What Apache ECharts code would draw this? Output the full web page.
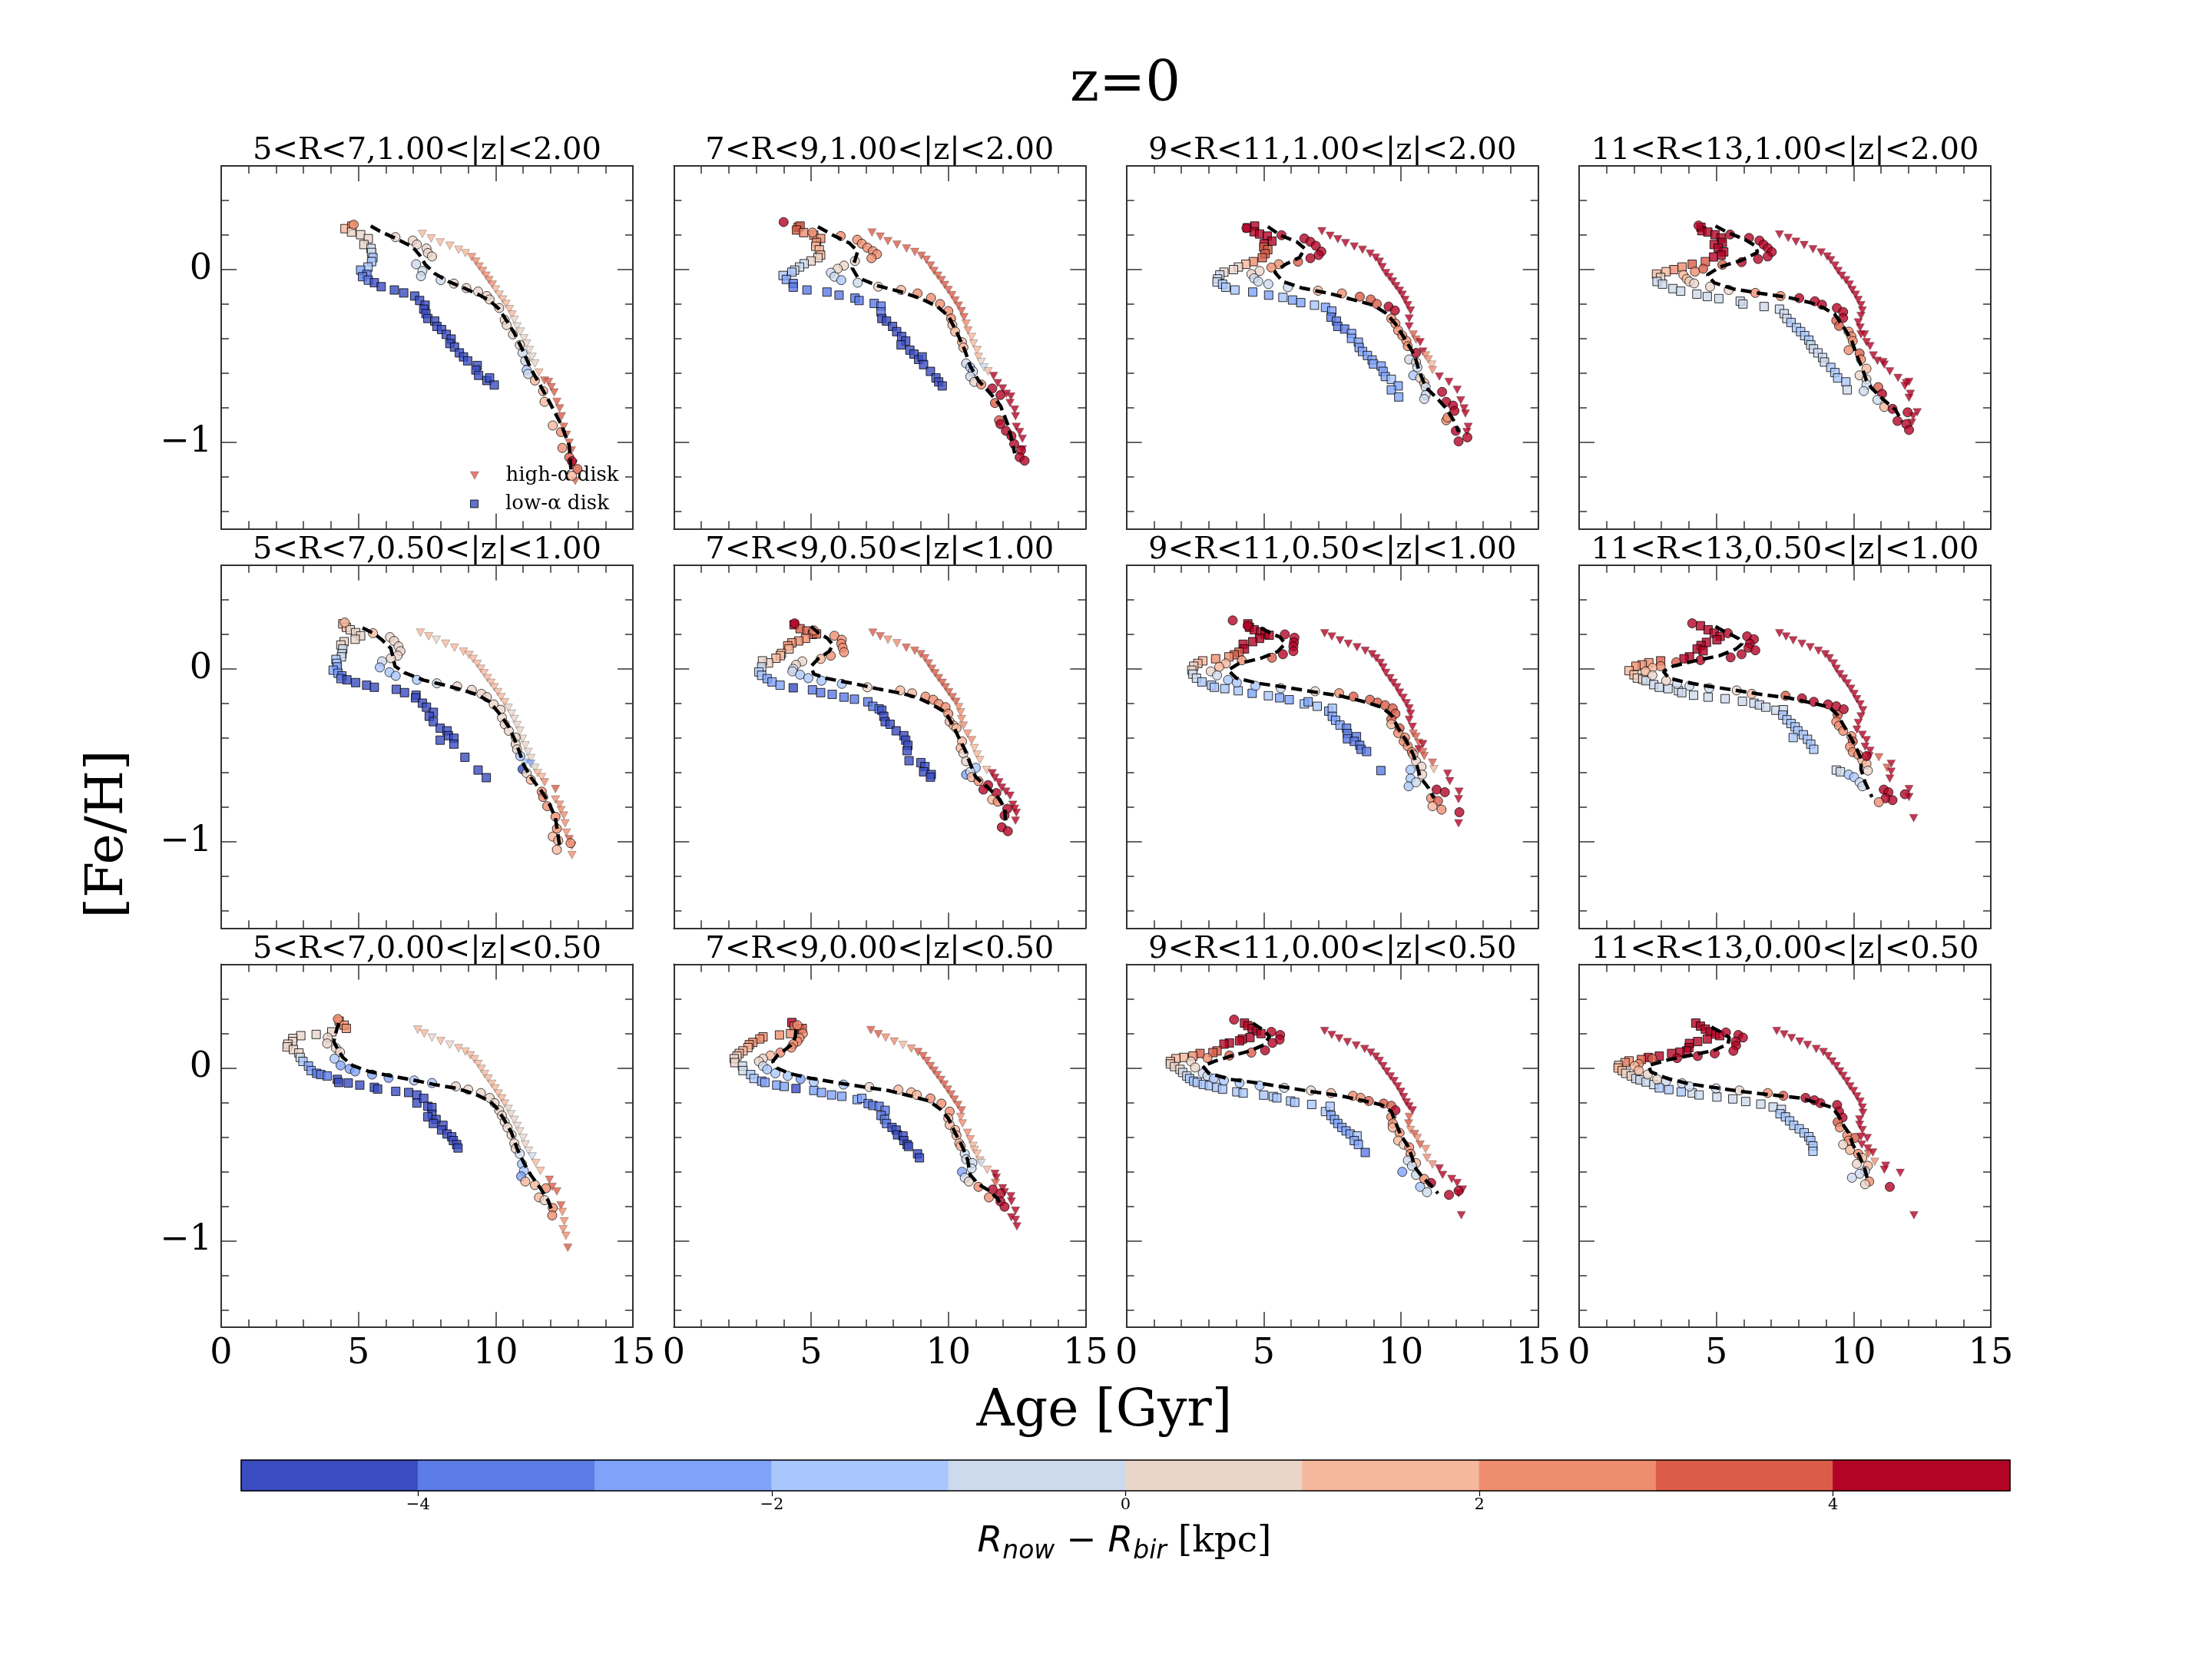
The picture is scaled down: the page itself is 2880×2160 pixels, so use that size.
<!DOCTYPE html>
<html><head><meta charset="utf-8">
<script src="https://cdn.jsdelivr.net/npm/echarts@6/dist/echarts.min.js"></script>
<style>html,body{margin:0;padding:0;background:#fff}#c{width:2880px;height:2160px}</style>
</head><body><div id="c"></div><script>
// colour-bin values of R_now - R_bir (bin centres, kpc)
const B5=-4.5,B4=-3.5,B3=-2.5,B2=-1.5,B1=-0.5,R1=0.5,R2=1.5,R3=2.5,R4=3.5,R5=4.5;

// ---------- row 1 : 1.00<|z|<2.00 ----------
const tri11=[[7.33,0.206,R2],[7.65,0.180,R2],[7.98,0.157,R2],[8.33,0.138,R2],[8.65,0.115,R2],[8.90,0.095,R2],[9.13,0.072,R3],[9.28,0.046,R3],[9.40,0.018,R3],[9.53,-0.008,R3],[9.65,-0.035,R3],[9.76,-0.061,R3],[9.88,-0.087,R3],[10.00,-0.115,R2],[10.13,-0.145,R2],[10.26,-0.173,R2],[10.38,-0.199,R2],[10.50,-0.229,R2],[10.60,-0.260,R2],[10.68,-0.291,R1],[10.78,-0.329,R1],[10.90,-0.359,R1],[11.03,-0.398,R1],[11.13,-0.428,R1],[11.23,-0.466,R1],[11.33,-0.505,R1],[11.43,-0.543,R1],[11.58,-0.596,R2],[11.78,-0.642,R4],[11.93,-0.650,R4],[12.03,-0.680,R4],[12.13,-0.711,R4],[12.23,-0.765,R4],[12.33,-0.803,R4],[12.40,-0.849,R4],[12.48,-0.910,R4],[12.58,-0.956,R4],[12.68,-1.002,R4],[12.76,-1.047,R4],[12.83,-1.124,R4],[12.90,-1.223,R4]];
const sq11=[[4.51,0.237,R2],[4.76,0.252,R3],[4.75,0.217,R1],[5.08,0.202,R1],[5.36,0.179,R1],[5.20,0.145,R1],[5.46,0.122,B1],[5.48,0.099,B1],[5.53,0.069,B2],[5.48,0.046,B2],[5.35,0.015,B2],[5.08,-0.003,B3],[5.31,-0.028,B4],[5.15,-0.041,B4],[5.36,-0.061,B4],[5.58,-0.076,B5],[5.83,-0.099,B5],[6.31,-0.118,B5],[6.65,-0.135,B5],[7.05,-0.153,B5],[7.23,-0.179,B5],[7.43,-0.206,B5],[7.38,-0.229,B5],[7.46,-0.255,B5],[7.53,-0.283,B5],[7.78,-0.298,B5],[7.86,-0.329,B5],[8.03,-0.347,B5],[8.20,-0.375,B5],[8.38,-0.402,B5],[8.33,-0.428,B5],[8.50,-0.448,B5],[8.68,-0.482,B5],[8.83,-0.505,B5],[8.98,-0.528,B5],[9.33,-0.555,B5],[9.28,-0.581,B5],[9.38,-0.612,B5],[9.68,-0.642,B5],[9.78,-0.627,B5],[9.95,-0.668,B5]];
const cir11=[[4.83,0.260,R3],[6.35,0.188,R1],[6.98,0.168,R1],[7.13,0.145,R1],[7.48,0.122,R1],[7.53,0.096,R1],[7.68,0.076,R1],[7.10,0.031,B1],[7.33,-0.008,B1],[7.28,-0.038,B1],[8.00,-0.061,B1],[8.48,-0.081,R1],[8.93,-0.107,R1],[9.36,-0.127,R1],[9.68,-0.153,R1],[9.78,-0.173,R1],[10.13,-0.222,R1],[10.33,-0.291,R1],[10.40,-0.321,R1],[10.63,-0.375,R1],[10.88,-0.436,R1],[10.98,-0.482,B1],[11.08,-0.528,B1],[11.13,-0.581,B2],[11.18,-0.604,B1],[11.43,-0.642,R2],[11.73,-0.703,R2],[11.78,-0.765,R2],[12.08,-0.902,R2],[12.38,-0.940,R3],[12.43,-1.032,R3],[12.68,-1.086,R4],[12.78,-1.109,R5],[12.98,-1.154,R4],[12.78,-1.193,R2]];
const line11=[[5.45,0.252],[5.78,0.222],[6.38,0.179],[6.98,0.130],[7.23,0.084],[7.43,0.031],[7.78,-0.023],[8.28,-0.069],[8.78,-0.102],[9.38,-0.145],[9.78,-0.179],[10.13,-0.229],[10.38,-0.291],[10.68,-0.367],[10.98,-0.466],[11.28,-0.573],[11.58,-0.657],[11.98,-0.772],[12.38,-0.894],[12.68,-1.017],[12.75,-1.170]];

const tri12=[[7.22,0.214,R4],[7.52,0.191,R4],[7.80,0.165,R4],[8.13,0.145,R4],[8.48,0.122,R4],[8.78,0.102,R4],[9.02,0.080,R4],[9.20,0.057,R4],[9.35,0.023,R4],[9.48,-0.008,R4],[9.62,-0.035,R4],[9.75,-0.061,R4],[9.87,-0.089,R4],[10.00,-0.118,R4],[10.13,-0.148,R4],[10.25,-0.179,R4],[10.37,-0.209,R4],[10.48,-0.240,R4],[10.57,-0.275,R4],[10.65,-0.313,R3],[10.72,-0.352,R3],[10.85,-0.390,R2],[10.92,-0.428,R2],[11.05,-0.466,R2],[11.10,-0.505,R2],[11.20,-0.535,R1],[11.30,-0.566,B1],[11.45,-0.589,R2],[11.65,-0.616,R5],[11.80,-0.657,R5],[11.98,-0.688,R5],[12.12,-0.719,R5],[12.28,-0.734,R5],[12.25,-0.772,R5],[12.42,-0.810,R5],[12.45,-0.849,R5],[12.48,-0.910,R5],[12.60,-0.940,R5],[12.70,-0.979,R5],[12.70,-1.040,R5]];
const sq12=[[4.53,0.245,R4],[4.60,0.252,R4],[4.47,0.229,R4],[4.73,0.214,R3],[5.10,0.199,R3],[5.35,0.180,R3],[5.20,0.157,R3],[5.17,0.135,R2],[5.30,0.115,R2],[5.35,0.084,R2],[5.25,0.069,R1],[5.00,0.050,R1],[4.75,0.034,B1],[4.58,0.015,B1],[4.40,-0.003,B1],[4.30,-0.015,B2],[3.98,-0.034,B2],[4.10,-0.057,B3],[4.35,-0.080,B4],[4.35,-0.102,B4],[4.85,-0.118,B4],[5.58,-0.130,B4],[6.02,-0.148,B4],[6.60,-0.165,B4],[6.75,-0.179,B4],[7.30,-0.196,B4],[7.55,-0.211,B4],[7.55,-0.245,B4],[7.58,-0.283,B5],[7.75,-0.298,B5],[7.97,-0.329,B5],[8.12,-0.359,B5],[8.30,-0.387,B5],[8.45,-0.413,B5],[8.28,-0.436,B5],[8.60,-0.466,B5],[8.75,-0.489,B5],[8.92,-0.520,B5],[9.05,-0.505,B5],[9.10,-0.550,B5],[9.35,-0.589,B5],[9.55,-0.627,B5],[9.65,-0.650,B5],[9.78,-0.673,B5]];
const cir12=[[4.00,0.275,R5],[5.05,0.214,R3],[6.08,0.194,R3],[6.68,0.173,R3],[6.85,0.150,R3],[7.05,0.127,R3],[7.25,0.107,R3],[7.40,0.089,R3],[7.20,0.066,R3],[6.60,0.050,R1],[6.20,0.023,R1],[5.97,0.005,R1],[5.72,-0.018,B1],[5.85,-0.041,B1],[6.10,-0.061,B2],[6.70,-0.076,B1],[7.45,-0.099,R1],[8.28,-0.118,R2],[8.88,-0.138,R3],[9.37,-0.164,R3],[9.70,-0.199,R3],[10.00,-0.240,R3],[10.10,-0.283,R3],[10.15,-0.321,R2],[10.25,-0.359,R2],[10.50,-0.420,R2],[10.55,-0.451,R2],[10.65,-0.543,B1],[10.80,-0.566,B2],[10.90,-0.589,B1],[10.80,-0.619,B1],[10.95,-0.650,R1],[11.20,-0.665,R3],[11.60,-0.688,R5],[11.90,-0.726,R5],[11.70,-0.772,R4],[11.85,-0.872,R4],[11.90,-0.894,R5],[12.10,-0.933,R5],[12.30,-0.963,R5],[12.40,-1.009,R5],[12.65,-1.047,R5],[12.60,-1.086,R5],[12.78,-1.106,R5]];
const line12=[[5.25,0.248],[5.80,0.199],[6.40,0.153],[6.70,0.107],[6.60,0.054],[6.50,0.008],[6.70,-0.046],[7.40,-0.092],[8.30,-0.130],[9.00,-0.168],[9.60,-0.214],[10.00,-0.268],[10.30,-0.359],[10.60,-0.466],[10.80,-0.558],[11.10,-0.642],[11.50,-0.711],[11.90,-0.787],[12.20,-0.910],[12.42,-1.063]];

const tri13=[[7.12,0.222,R5],[7.42,0.196,R5],[7.70,0.176,R5],[7.98,0.153,R5],[8.30,0.133,R5],[8.60,0.115,R5],[8.88,0.092,R5],[9.08,0.069,R5],[9.22,0.046,R5],[9.32,0.015,R5],[9.45,-0.020,R5],[9.58,-0.043,R5],[9.70,-0.069,R5],[9.82,-0.095,R5],[9.95,-0.122,R5],[10.05,-0.145,R5],[10.15,-0.176,R5],[10.25,-0.206,R5],[10.35,-0.237,R5],[10.30,-0.283,R5],[10.30,-0.329,R5],[10.45,-0.375,R4],[10.55,-0.405,R4],[10.70,-0.420,R5],[10.80,-0.474,R5],[10.90,-0.497,R3],[11.00,-0.520,R3],[11.13,-0.550,R2],[11.15,-0.581,R3],[11.40,-0.619,R5],[11.75,-0.650,R5],[12.05,-0.696,R5],[12.18,-0.757,R5],[12.30,-0.803,R5],[12.35,-0.833,R5],[12.45,-0.910,R5],[12.40,-0.940,R5]];
const sq13=[[4.40,0.242,R5],[4.67,0.252,R5],[4.65,0.219,R5],[4.85,0.206,R5],[5.13,0.194,R5],[5.30,0.165,R5],[5.02,0.150,R5],[5.00,0.130,R4],[5.15,0.115,R4],[5.05,0.092,R4],[4.95,0.069,R4],[4.62,0.046,R3],[4.35,0.031,R2],[4.08,0.015,R1],[3.90,0.000,R1],[3.55,-0.015,R1],[3.40,-0.031,B1],[3.32,-0.054,B1],[3.30,-0.072,B1],[3.50,-0.084,B2],[3.62,-0.102,B2],[3.95,-0.118,B2],[4.60,-0.130,B3],[5.18,-0.148,B3],[5.70,-0.161,B2],[6.05,-0.176,B3],[6.35,-0.191,B3],[6.85,-0.206,B2],[7.25,-0.219,B3],[7.48,-0.240,B3],[7.45,-0.275,B4],[7.65,-0.298,B4],[7.70,-0.329,B4],[7.95,-0.344,B4],[8.20,-0.370,B3],[8.20,-0.398,B3],[8.45,-0.420,B3],[8.48,-0.451,B3],[8.60,-0.474,B3],[8.78,-0.497,B3],[8.95,-0.523,B3],[9.00,-0.546,B3],[9.28,-0.558,B3],[9.35,-0.589,B3],[9.43,-0.619,B3],[9.65,-0.635,B2],[9.90,-0.673,B3],[9.65,-0.696,B3],[9.92,-0.737,B3]];
const cir13=[[4.37,0.240,R5],[5.65,0.199,R5],[6.48,0.180,R5],[6.70,0.161,R5],[6.90,0.138,R5],[7.10,0.104,R5],[7.00,0.084,R5],[6.70,0.066,R5],[6.25,0.046,R4],[5.55,0.031,R3],[5.28,0.012,R3],[4.85,-0.008,R1],[4.55,-0.026,R1],[4.65,-0.050,B1],[4.80,-0.069,B1],[5.17,-0.084,B1],[5.88,-0.102,B1],[6.98,-0.122,R2],[7.85,-0.138,R3],[8.50,-0.157,R4],[8.90,-0.173,R4],[9.12,-0.199,R4],[9.55,-0.214,R5],[9.78,-0.237,R5],[9.65,-0.283,R3],[9.80,-0.313,R3],[9.90,-0.352,R3],[10.05,-0.382,R3],[10.20,-0.413,R3],[10.25,-0.443,R3],[10.55,-0.482,R5],[10.30,-0.520,B1],[10.55,-0.535,R1],[10.60,-0.566,B1],[10.45,-0.612,B2],[10.70,-0.627,R1],[10.85,-0.657,R2],[10.90,-0.680,B1],[10.90,-0.726,B1],[10.85,-0.749,B1],[11.50,-0.708,R5],[11.65,-0.765,R5],[11.90,-0.787,R5],[11.95,-0.818,R5],[11.65,-0.872,R3],[11.70,-0.856,R3],[12.00,-0.933,R5],[12.10,-0.994,R5],[12.42,-0.971,R5]];
const line13=[[5.15,0.249],[5.60,0.199],[6.20,0.161],[6.50,0.122],[6.30,0.069],[5.80,0.031],[5.40,-0.015],[5.70,-0.069],[6.40,-0.107],[7.40,-0.138],[8.30,-0.176],[9.00,-0.206],[9.45,-0.252],[9.80,-0.313],[10.10,-0.390],[10.30,-0.443],[10.50,-0.497],[10.65,-0.581],[10.90,-0.680],[11.30,-0.742],[11.65,-0.803],[12.00,-0.894],[12.10,-0.940]];

const tri14=[[7.30,0.203,R5],[7.62,0.183,R5],[7.90,0.161,R5],[8.20,0.142,R5],[8.52,0.118,R5],[8.82,0.099,R5],[9.04,0.076,R5],[9.17,0.054,R5],[9.32,0.023,R5],[9.44,-0.008,R5],[9.57,-0.035,R5],[9.72,-0.061,R5],[9.85,-0.087,R5],[9.95,-0.118,R5],[10.07,-0.145,R5],[10.17,-0.176,R5],[10.27,-0.206,R5],[10.32,-0.237,R5],[10.27,-0.268,R5],[10.17,-0.306,R5],[10.24,-0.336,R5],[10.27,-0.375,R5],[10.40,-0.375,R5],[10.47,-0.420,R5],[10.60,-0.443,R5],[10.72,-0.497,R5],[10.87,-0.528,R5],[11.07,-0.535,R5],[11.12,-0.550,R5],[11.32,-0.589,R5],[11.62,-0.627,R5],[11.92,-0.657,R5],[12.02,-0.650,R5],[11.87,-0.673,R5],[12.07,-0.719,R5],[12.02,-0.742,R5],[12.32,-0.826,R5],[12.17,-0.849,R5],[12.12,-0.887,R5]];
const sq14=[[4.44,0.245,R5],[4.47,0.225,R5],[4.69,0.217,R5],[4.95,0.202,R5],[5.17,0.183,R5],[5.22,0.157,R5],[4.92,0.145,R5],[5.07,0.125,R5],[5.27,0.102,R5],[5.17,0.084,R5],[4.90,0.073,R5],[4.60,0.046,R4],[4.12,0.031,R4],[3.75,0.015,R3],[3.45,0.000,R3],[3.17,-0.012,R2],[2.82,-0.026,R2],[2.97,-0.046,R1],[2.84,-0.069,B1],[3.04,-0.084,B1],[3.42,-0.110,B1],[3.70,-0.125,B1],[4.29,-0.142,B1],[4.67,-0.156,B1],[5.09,-0.168,B1],[5.87,-0.183,B1],[5.97,-0.199,B1],[6.74,-0.214,B1],[7.30,-0.229,B1],[7.47,-0.255,B1],[7.57,-0.283,B1],[7.72,-0.306,B2],[7.92,-0.336,B2],[8.07,-0.359,B2],[8.22,-0.382,B2],[8.37,-0.408,B2],[8.44,-0.436,B1],[8.54,-0.459,B1],[8.70,-0.482,B1],[8.87,-0.509,B1],[8.94,-0.535,B1],[9.17,-0.566,B2],[9.32,-0.596,B2],[9.42,-0.627,B2],[9.72,-0.650,B2],[9.77,-0.696,B1]];
const cir14=[[4.35,0.255,R5],[5.50,0.203,R5],[6.19,0.183,R5],[6.57,0.168,R5],[6.72,0.145,R5],[6.87,0.125,R5],[7.02,0.102,R5],[6.87,0.076,R5],[6.52,0.061,R5],[5.92,0.043,R5],[5.22,0.028,R4],[4.52,0.005,R4],[4.22,-0.012,R3],[3.80,-0.031,R2],[3.92,-0.054,R2],[4.02,-0.069,R1],[4.19,-0.080,R1],[4.77,-0.099,R1],[5.45,-0.118,R1],[6.42,-0.135,R3],[7.34,-0.153,R3],[8.02,-0.165,R5],[8.59,-0.183,R5],[8.85,-0.203,R5],[9.39,-0.222,R5],[9.62,-0.245,R5],[9.62,-0.280,R5],[9.37,-0.295,R4],[9.47,-0.326,R4],[9.82,-0.359,R3],[9.92,-0.387,R3],[9.97,-0.413,R3],[9.82,-0.466,R3],[10.22,-0.485,R4],[10.27,-0.520,R3],[10.47,-0.573,R2],[10.22,-0.612,R1],[10.47,-0.635,R1],[10.47,-0.665,B1],[10.37,-0.703,B1],[10.90,-0.680,R4],[11.04,-0.719,R5],[10.87,-0.754,B1],[11.12,-0.795,R2],[11.42,-0.806,R5],[11.60,-0.876,R5],[11.97,-0.826,R5],[11.92,-0.894,R5],[12.02,-0.928,R5]];
const line14=[[4.97,0.252],[5.42,0.214],[6.02,0.176],[6.42,0.138],[6.50,0.099],[5.92,0.054],[5.12,0.015],[4.67,-0.031],[4.92,-0.076],[5.62,-0.112],[6.62,-0.138],[7.62,-0.161],[8.42,-0.191],[8.92,-0.222],[9.32,-0.260],[9.62,-0.329],[9.92,-0.405],[10.12,-0.497],[10.32,-0.573],[10.47,-0.642],[10.67,-0.688],[11.12,-0.757],[11.52,-0.810],[11.77,-0.879]];

// ---------- row 2 : 0.50<|z|<1.00 ----------
const tri21=[[7.26,0.209,R2],[7.56,0.188,R2],[7.84,0.168,R1],[8.18,0.145,R2],[8.50,0.122,R2],[8.83,0.099,R2],[9.03,0.080,R2],[9.18,0.057,R2],[9.33,0.028,R2],[9.46,0.000,R2],[9.58,-0.026,R2],[9.70,-0.054,R2],[9.83,-0.081,R2],[9.95,-0.107,R2],[10.08,-0.135,R2],[10.20,-0.164,R2],[10.33,-0.194,R2],[10.46,-0.226,R1],[10.58,-0.260,R1],[10.68,-0.291,R1],[10.78,-0.326,R1],[10.88,-0.359,R1],[10.98,-0.405,R1],[11.08,-0.443,R1],[11.18,-0.482,R1],[11.28,-0.517,R1],[11.08,-0.543,B2],[11.28,-0.550,B3],[11.43,-0.573,R1],[11.53,-0.604,R2],[11.68,-0.627,R2],[11.78,-0.657,R3],[12.18,-0.696,R4],[12.18,-0.757,R3],[12.33,-0.787,R3],[12.38,-0.818,R3],[12.48,-0.849,R3],[12.53,-0.894,R3],[12.58,-0.948,R3],[12.68,-0.986,R4],[12.78,-1.024,R3],[12.78,-1.078,R3]];
const sq21=[[4.43,0.260,R2],[4.56,0.240,R2],[4.70,0.226,R1],[4.90,0.209,R1],[5.08,0.191,R1],[4.88,0.171,R1],[4.48,0.157,R1],[4.36,0.138,R1],[4.43,0.115,B1],[4.40,0.087,B1],[4.38,0.069,B1],[4.18,0.054,B2],[4.21,0.031,B2],[4.23,0.011,B3],[4.08,-0.008,B3],[4.26,-0.026,B3],[4.40,-0.041,B4],[4.36,-0.057,B4],[4.58,-0.064,B5],[4.90,-0.080,B5],[5.30,-0.095,B5],[5.58,-0.107,B5],[6.38,-0.119,B5],[6.68,-0.138,B5],[7.10,-0.153,B5],[7.08,-0.168,B5],[7.33,-0.199,B5],[7.48,-0.222,B5],[7.73,-0.252,B5],[7.58,-0.275,B5],[7.73,-0.306,B5],[7.98,-0.344,B5],[8.23,-0.359,B5],[8.28,-0.387,B5],[8.48,-0.402,B5],[8.48,-0.436,B5],[7.98,-0.413,B5],[8.88,-0.512,B5],[9.36,-0.586,B5],[9.66,-0.630,B5]];
const cir21=[[4.50,0.268,R2],[5.53,0.206,R2],[6.15,0.183,R1],[6.30,0.161,R1],[6.46,0.130,R1],[6.53,0.102,R1],[6.43,0.076,R1],[6.18,0.061,R1],[5.86,0.043,B1],[5.78,0.008,B2],[6.13,-0.020,B2],[6.36,-0.041,B2],[7.13,-0.064,B2],[7.86,-0.084,B1],[8.60,-0.102,R1],[9.13,-0.122,R1],[9.48,-0.145,R1],[9.68,-0.164,R1],[9.93,-0.206,R1],[10.18,-0.237,R1],[10.23,-0.283,R1],[10.33,-0.321,R1],[10.48,-0.359,R1],[10.73,-0.398,R1],[10.73,-0.436,R1],[10.78,-0.466,R1],[10.90,-0.505,B2],[10.98,-0.581,B5],[11.13,-0.604,R1],[11.28,-0.642,R2],[11.68,-0.711,R3],[11.73,-0.742,R3],[11.88,-0.795,R3],[12.18,-0.856,R3],[12.23,-0.925,R3],[12.08,-0.971,R2],[12.28,-0.994,R2],[12.73,-1.009,R3],[12.23,-1.047,R2]];
const line21=[[5.15,0.237],[5.58,0.203],[5.88,0.164],[6.18,0.118],[6.28,0.054],[6.33,0.015],[6.68,-0.023],[7.38,-0.066],[8.08,-0.092],[8.78,-0.122],[9.38,-0.153],[9.78,-0.191],[10.18,-0.268],[10.48,-0.336],[10.68,-0.405],[10.83,-0.466],[11.03,-0.558],[11.28,-0.627],[11.68,-0.711],[11.93,-0.772],[12.18,-0.864],[12.33,-1.024]];

const tri22=[[7.25,0.209,R4],[7.52,0.188,R4],[7.80,0.168,R3],[8.13,0.148,R3],[8.47,0.122,R4],[8.78,0.104,R4],[9.00,0.084,R4],[9.15,0.061,R4],[9.28,0.031,R4],[9.40,0.000,R4],[9.52,-0.026,R4],[9.65,-0.054,R4],[9.78,-0.081,R4],[9.90,-0.107,R4],[10.02,-0.135,R4],[10.15,-0.164,R4],[10.28,-0.191,R4],[10.38,-0.222,R3],[10.45,-0.252,R3],[10.48,-0.291,R3],[10.55,-0.329,R3],[10.70,-0.375,R3],[10.85,-0.413,R3],[10.95,-0.459,R2],[11.05,-0.497,R2],[11.15,-0.528,R2],[11.40,-0.586,R2],[11.60,-0.604,R5],[11.70,-0.631,R5],[11.85,-0.657,R5],[11.95,-0.688,R5],[12.10,-0.711,R5],[12.25,-0.734,R5],[12.35,-0.787,R5],[12.42,-0.810,R5],[12.48,-0.833,R5],[12.45,-0.879,R5]];
const sq22=[[4.38,0.255,R5],[4.60,0.232,R4],[4.85,0.219,R4],[5.05,0.199,R4],[5.20,0.202,R4],[4.80,0.176,R3],[4.55,0.161,R3],[4.30,0.150,R3],[4.15,0.133,R3],[4.20,0.115,R2],[3.92,0.089,R2],[3.88,0.076,R2],[3.72,0.061,R2],[3.45,0.034,R1],[3.23,0.046,R1],[3.20,0.011,B1],[3.10,-0.018,B2],[3.20,-0.038,B2],[3.40,-0.057,B3],[3.58,-0.076,B3],[3.87,-0.095,B3],[4.35,-0.110,B5],[5.05,-0.122,B4],[5.35,-0.138,B4],[5.77,-0.148,B4],[6.20,-0.164,B4],[6.58,-0.176,B4],[7.07,-0.191,B4],[7.25,-0.217,B4],[7.48,-0.232,B4],[7.58,-0.240,B5],[7.65,-0.275,B5],[7.70,-0.306,B5],[7.88,-0.321,B5],[8.10,-0.359,B5],[8.38,-0.387,B5],[8.45,-0.413,B5],[8.53,-0.443,B5],[8.50,-0.474,B5],[8.57,-0.532,B5],[9.00,-0.543,B5],[9.15,-0.566,B5],[9.10,-0.596,B5],[9.38,-0.612,B5],[9.35,-0.627,B5]];
const cir22=[[4.40,0.263,R5],[5.10,0.222,R3],[5.85,0.191,R3],[6.12,0.168,R3],[6.10,0.145,R3],[6.15,0.122,R3],[6.20,0.096,R3],[5.72,0.076,R3],[5.35,0.057,R2],[4.68,0.043,R1],[4.45,0.023,R1],[4.35,0.000,B1],[4.32,-0.015,B1],[4.60,-0.034,B2],[4.90,-0.054,B2],[5.38,-0.069,B2],[6.12,-0.087,B2],[7.05,-0.107,R1],[8.25,-0.125,R2],[8.68,-0.142,R2],[9.17,-0.161,R3],[9.45,-0.179,R3],[9.65,-0.203,R3],[9.90,-0.222,R3],[10.00,-0.260,R3],[10.05,-0.306,R2],[10.20,-0.329,R2],[10.30,-0.344,R2],[10.50,-0.420,R2],[10.45,-0.459,R2],[10.55,-0.489,R1],[10.65,-0.535,R1],[11.00,-0.573,B2],[10.65,-0.612,B3],[10.80,-0.596,B1],[10.85,-0.627,R2],[11.10,-0.650,R3],[11.45,-0.673,R5],[11.28,-0.699,R5],[11.75,-0.719,R5],[11.60,-0.757,R2],[11.80,-0.769,R3],[12.15,-0.810,R5],[12.05,-0.849,R5],[11.95,-0.917,R5],[12.17,-0.940,R5]];
const line22=[[5.00,0.245],[5.28,0.206],[5.60,0.176],[5.80,0.138],[5.65,0.099],[5.28,0.061],[5.00,0.015],[5.10,-0.031],[5.60,-0.057],[6.60,-0.087],[7.40,-0.115],[8.30,-0.142],[8.90,-0.168],[9.40,-0.206],[9.90,-0.252],[10.20,-0.336],[10.40,-0.405],[10.60,-0.466],[10.80,-0.550],[11.00,-0.627],[11.40,-0.680],[11.80,-0.742],[12.05,-0.803],[12.10,-0.910]];

const tri23=[[7.22,0.206,R5],[7.48,0.187,R5],[7.78,0.165,R5],[8.08,0.145,R5],[8.40,0.125,R5],[8.70,0.104,R5],[8.95,0.084,R5],[9.10,0.061,R5],[9.25,0.035,R5],[9.35,0.008,R5],[9.45,-0.023,R5],[9.60,-0.054,R5],[9.72,-0.081,R5],[9.85,-0.107,R5],[9.95,-0.138,R5],[10.08,-0.168,R5],[10.20,-0.199,R5],[10.30,-0.229,R5],[10.35,-0.260,R5],[10.30,-0.295,R5],[10.42,-0.336,R5],[10.45,-0.375,R4],[10.55,-0.393,R4],[10.65,-0.428,R4],[10.80,-0.436,R5],[10.65,-0.466,R5],[10.80,-0.482,R4],[10.85,-0.505,R4],[11.15,-0.543,R4],[11.20,-0.581,R2],[11.70,-0.607,R5],[11.78,-0.650,R5],[12.12,-0.711,R5],[12.10,-0.754,R5],[12.10,-0.894,R5]];
const sq23=[[4.42,0.260,R5],[4.48,0.240,R5],[4.65,0.226,R5],[4.88,0.214,R5],[5.05,0.199,R5],[5.20,0.194,R5],[4.85,0.176,R5],[4.60,0.157,R5],[4.25,0.142,R5],[4.30,0.115,R5],[4.10,0.096,R4],[3.93,0.081,R4],[3.73,0.069,R3],[3.25,0.058,R3],[2.78,0.046,R2],[2.60,0.031,R2],[2.45,0.015,R1],[2.38,-0.008,R1],[2.42,-0.031,B1],[2.55,-0.054,B1],[2.75,-0.076,B2],[3.10,-0.095,B2],[3.20,-0.107,B2],[3.58,-0.115,B2],[4.07,-0.127,B2],[4.58,-0.142,B3],[5.17,-0.156,B2],[5.58,-0.168,B3],[5.93,-0.179,B3],[6.48,-0.203,B2],[6.62,-0.191,B3],[6.95,-0.217,B2],[7.37,-0.245,B3],[7.50,-0.229,B2],[7.50,-0.275,B3],[7.62,-0.298,B3],[7.78,-0.326,B3],[8.02,-0.344,B4],[8.05,-0.375,B4],[8.05,-0.405,B4],[8.38,-0.393,B4],[8.30,-0.420,B4],[8.50,-0.443,B4],[8.55,-0.466,B4],[8.75,-0.479,B4],[9.27,-0.589,B4]];
const cir23=[[3.87,0.280,R5],[4.42,0.249,R5],[5.77,0.199,R5],[6.12,0.180,R5],[6.10,0.153,R5],[6.08,0.130,R5],[6.08,0.102,R5],[5.70,0.084,R5],[5.30,0.064,R4],[4.20,0.049,R3],[3.62,0.031,R2],[3.38,0.011,R2],[3.07,-0.015,R1],[3.30,-0.038,B1],[3.70,-0.064,B2],[4.02,-0.080,B2],[4.70,-0.099,B2],[5.62,-0.112,B1],[6.87,-0.130,R1],[7.75,-0.141,R3],[8.27,-0.161,R4],[8.87,-0.179,R4],[9.15,-0.196,R4],[9.42,-0.211,R4],[9.70,-0.229,R4],[9.80,-0.260,R4],[9.65,-0.291,R4],[9.65,-0.321,R2],[9.95,-0.344,R4],[9.90,-0.372,R3],[10.15,-0.398,R3],[10.10,-0.420,R3],[10.25,-0.448,R3],[10.40,-0.482,R3],[10.45,-0.497,R2],[10.55,-0.535,R1],[10.75,-0.566,R1],[10.35,-0.584,B2],[10.35,-0.635,B2],[10.28,-0.680,B2],[10.55,-0.657,B1],[10.77,-0.612,R1],[11.30,-0.699,R5],[11.60,-0.714,R5],[11.10,-0.749,R3],[11.35,-0.765,R4],[11.15,-0.795,R2],[11.48,-0.815,R3],[12.13,-0.830,R5]];
const line23=[[4.90,0.237],[5.25,0.206],[5.60,0.183],[5.78,0.145],[5.50,0.099],[4.90,0.061],[4.10,0.031],[3.70,-0.008],[4.00,-0.054],[4.80,-0.084],[5.80,-0.107],[6.80,-0.133],[7.80,-0.157],[8.60,-0.188],[9.30,-0.222],[9.65,-0.268],[9.90,-0.344],[10.20,-0.420],[10.45,-0.497],[10.55,-0.543],[10.70,-0.627],[11.00,-0.688],[11.20,-0.749]];

const tri24=[[7.30,0.206,R5],[7.54,0.187,R5],[7.80,0.165,R5],[8.12,0.145,R5],[8.42,0.125,R5],[8.72,0.104,R5],[8.97,0.084,R5],[9.12,0.061,R5],[9.27,0.031,R5],[9.37,0.000,R5],[9.50,-0.031,R5],[9.64,-0.057,R5],[9.77,-0.084,R5],[9.90,-0.115,R5],[10.02,-0.145,R5],[10.12,-0.176,R5],[10.24,-0.206,R5],[10.34,-0.240,R5],[10.27,-0.275,R5],[10.17,-0.313,R5],[10.12,-0.352,R5],[10.32,-0.382,R5],[10.47,-0.413,R5],[10.42,-0.451,R5],[10.60,-0.474,R5],[10.57,-0.505,R5],[10.92,-0.512,R4],[11.37,-0.550,R5],[11.22,-0.573,R4],[11.37,-0.596,R5],[11.32,-0.635,R5],[12.02,-0.696,R5],[12.02,-0.742,R5],[12.19,-0.864,R5]];
const sq24=[[4.42,0.249,R5],[4.70,0.226,R5],[4.92,0.206,R5],[5.14,0.188,R5],[5.02,0.168,R5],[4.64,0.153,R5],[4.44,0.135,R5],[4.30,0.115,R5],[4.52,0.104,R5],[4.02,0.069,R5],[3.82,0.058,R5],[2.97,0.046,R4],[2.54,0.035,R3],[2.30,0.023,R3],[2.07,0.015,R3],[1.82,-0.011,R2],[2.00,-0.035,R2],[2.12,-0.054,R1],[2.32,-0.061,R1],[2.44,-0.069,B1],[2.72,-0.092,B1],[2.92,-0.107,B1],[3.24,-0.115,B1],[3.62,-0.127,B1],[3.74,-0.138,B1],[4.17,-0.153,B1],[4.70,-0.164,B1],[5.32,-0.173,B1],[5.95,-0.188,B1],[6.37,-0.199,B1],[6.57,-0.209,B1],[6.80,-0.222,B1],[7.17,-0.240,B1],[7.44,-0.237,B1],[7.42,-0.268,B2],[7.57,-0.295,B2],[7.72,-0.317,B2],[7.87,-0.336,B2],[7.97,-0.359,B2],[7.80,-0.398,B2],[8.17,-0.382,B2],[8.32,-0.408,B2],[8.44,-0.436,B2],[8.55,-0.466,B2],[9.37,-0.586,B1],[9.52,-0.596,B1]];
const cir24=[[4.12,0.263,R5],[5.42,0.206,R5],[6.12,0.188,R5],[6.37,0.171,R5],[6.22,0.145,R5],[6.17,0.122,R5],[6.42,0.107,R5],[5.92,0.084,R5],[5.52,0.066,R5],[4.42,0.050,R5],[3.54,0.038,R4],[2.97,0.015,R3],[2.67,0.005,R2],[2.42,-0.015,R2],[2.67,-0.038,R1],[3.17,-0.069,R1],[3.57,-0.087,B1],[4.02,-0.099,B1],[4.74,-0.112,B1],[5.74,-0.125,R1],[6.29,-0.145,R2],[7.52,-0.156,R4],[8.12,-0.171,R5],[8.55,-0.191,R5],[9.07,-0.206,R5],[9.37,-0.217,R5],[9.64,-0.234,R5],[9.42,-0.268,R4],[9.37,-0.306,R3],[9.47,-0.329,R3],[9.62,-0.359,R3],[9.92,-0.390,R3],[9.97,-0.420,R4],[9.87,-0.451,R3],[9.97,-0.482,R3],[10.17,-0.497,R3],[10.32,-0.528,R2],[10.47,-0.550,R2],[10.52,-0.589,R1],[9.82,-0.612,B2],[10.02,-0.627,B2],[10.22,-0.657,B1],[10.32,-0.680,B1],[10.47,-0.505,R5],[11.10,-0.699,R5],[11.27,-0.714,R5],[11.17,-0.749,R5],[11.42,-0.760,R5],[10.92,-0.772,R3],[11.87,-0.726,R5]];
const line24=[[4.97,0.245],[5.22,0.222],[5.52,0.199],[5.80,0.176],[5.94,0.145],[5.72,0.115],[5.12,0.076],[4.22,0.046],[3.42,0.015],[3.07,-0.015],[3.27,-0.054],[3.82,-0.076],[4.62,-0.099],[5.62,-0.122],[6.62,-0.148],[7.62,-0.168],[8.52,-0.199],[9.12,-0.222],[9.42,-0.268],[9.67,-0.336],[9.92,-0.405],[10.12,-0.466],[10.27,-0.520],[10.27,-0.581],[10.42,-0.657],[10.67,-0.742]];

// ---------- row 3 : 0.00<|z|<0.50 ----------
const tri31=[[7.16,0.222,R2],[7.40,0.199,R2],[7.68,0.176,R1],[8.00,0.156,R2],[8.33,0.135,R1],[8.65,0.115,R2],[8.90,0.095,R2],[9.08,0.073,R2],[9.23,0.050,R2],[9.36,0.023,R2],[9.48,-0.005,R2],[9.60,-0.035,R2],[9.73,-0.061,R2],[9.86,-0.092,R2],[9.98,-0.118,R2],[10.10,-0.148,R2],[10.23,-0.176,R2],[10.33,-0.206,R2],[10.46,-0.237,R1],[10.56,-0.268,R1],[10.68,-0.301,R1],[10.78,-0.336,R1],[10.88,-0.367,R1],[11.00,-0.405,R1],[11.08,-0.443,R1],[11.20,-0.479,R1],[11.33,-0.512,B1],[11.46,-0.550,R2],[11.63,-0.596,R2],[11.96,-0.647,R4],[12.06,-0.688,R4],[12.23,-0.714,R4],[12.38,-0.795,R4],[12.43,-0.833,R3],[12.50,-0.887,R3],[12.46,-0.933,R3],[12.56,-0.971,R3],[12.63,-1.040,R4]];
const sq31=[[4.30,0.271,R3],[4.48,0.248,R3],[4.56,0.229,R3],[4.03,0.209,R1],[3.46,0.194,R1],[2.90,0.187,R1],[2.61,0.171,R1],[2.60,0.153,R1],[2.43,0.138,R1],[2.40,0.122,R1],[2.63,0.107,R1],[2.83,0.087,R1],[2.88,0.061,B1],[2.98,0.038,B2],[3.18,0.011,B3],[3.28,-0.015,B3],[3.48,-0.031,B4],[3.63,-0.038,B4],[3.86,-0.046,B4],[4.23,-0.066,B5],[4.28,-0.084,B5],[4.63,-0.087,B5],[5.05,-0.099,B5],[5.58,-0.112,B5],[5.70,-0.122,B5],[6.36,-0.135,B5],[6.83,-0.142,B5],[7.13,-0.156,B5],[7.13,-0.203,B5],[7.38,-0.176,B5],[7.53,-0.222,B5],[7.68,-0.229,B5],[7.68,-0.268,B5],[7.53,-0.283,B5],[7.83,-0.298,B5],[7.73,-0.321,B5],[8.08,-0.332,B5],[8.03,-0.359,B5],[8.23,-0.382,B5],[8.40,-0.398,B5],[8.46,-0.420,B5],[8.58,-0.443,B5],[8.63,-0.463,B5]];
const cir31=[[4.25,0.283,R3],[3.88,0.176,R1],[3.86,0.142,R1],[4.18,0.115,R1],[4.33,0.092,R1],[4.13,0.054,B2],[4.35,0.015,B3],[4.68,-0.005,B3],[4.88,-0.020,B3],[5.50,-0.038,B3],[6.10,-0.057,B3],[7.03,-0.072,B2],[7.68,-0.087,B2],[8.55,-0.107,R1],[9.00,-0.125,R1],[9.46,-0.145,R1],[9.78,-0.173,R1],[9.96,-0.203,R1],[10.13,-0.245,R1],[10.23,-0.275,R1],[10.33,-0.313,R1],[10.43,-0.344,R1],[10.58,-0.387,R1],[10.68,-0.436,R1],[10.73,-0.466,R1],[10.88,-0.497,B1],[10.96,-0.555,B2],[11.03,-0.596,B2],[10.93,-0.627,B3],[11.08,-0.657,R2],[11.43,-0.677,R2],[11.83,-0.696,R3],[11.58,-0.749,R2],[11.78,-0.765,R1],[12.08,-0.810,R3],[12.06,-0.853,R3]];
const line31=[[4.28,0.260],[4.18,0.206],[4.10,0.153],[4.28,0.099],[4.43,0.061],[4.78,0.015],[5.38,-0.020],[6.18,-0.046],[6.98,-0.069],[7.78,-0.096],[8.58,-0.118],[9.28,-0.153],[9.78,-0.191],[10.03,-0.229],[10.28,-0.291],[10.58,-0.375],[10.78,-0.466],[11.03,-0.550],[11.28,-0.619],[11.63,-0.696],[11.93,-0.772],[12.08,-0.841]];

const tri32=[[7.18,0.219,R4],[7.45,0.196,R4],[7.72,0.176,R3],[8.03,0.153,R3],[8.35,0.133,R2],[8.65,0.112,R3],[8.90,0.092,R4],[9.08,0.069,R4],[9.22,0.041,R4],[9.35,0.011,R4],[9.48,-0.015,R4],[9.60,-0.041,R4],[9.73,-0.069,R4],[9.85,-0.096,R4],[9.98,-0.125,R4],[10.10,-0.153,R4],[10.22,-0.183,R4],[10.35,-0.214,R4],[10.48,-0.245,R4],[10.45,-0.283,R3],[10.52,-0.321,R3],[10.70,-0.375,R3],[10.80,-0.413,R3],[10.90,-0.451,R2],[10.95,-0.474,R2],[11.05,-0.497,R2],[11.15,-0.535,R2],[11.20,-0.550,B1],[11.42,-0.589,R2],[11.70,-0.612,R5],[11.75,-0.635,R5],[11.72,-0.665,R4],[11.98,-0.696,R5],[12.05,-0.719,R5],[12.28,-0.742,R5],[12.30,-0.772,R5],[12.45,-0.826,R5],[12.30,-0.864,R5],[12.45,-0.879,R5],[12.50,-0.917,R5]];
const sq32=[[4.30,0.263,R5],[4.38,0.242,R4],[4.58,0.225,R4],[4.68,0.229,R4],[4.25,0.199,R3],[3.85,0.191,R3],[3.25,0.180,R3],[3.13,0.168,R3],[2.88,0.148,R3],[2.75,0.135,R3],[2.70,0.118,R2],[2.52,0.099,R2],[2.38,0.084,R2],[2.30,0.069,R1],[2.20,0.054,R1],[2.22,0.031,R1],[2.50,0.011,B1],[2.52,-0.015,B1],[2.80,-0.038,B2],[2.92,-0.061,B2],[3.20,-0.076,B3],[3.32,-0.084,B3],[3.75,-0.099,B3],[4.02,-0.107,B3],[4.45,-0.119,B5],[5.10,-0.130,B3],[5.38,-0.142,B3],[5.75,-0.156,B3],[6.12,-0.164,B3],[6.68,-0.183,B3],[6.85,-0.176,B3],[7.08,-0.206,B4],[7.25,-0.217,B4],[7.48,-0.222,B4],[7.70,-0.245,B4],[7.55,-0.275,B4],[7.68,-0.298,B4],[7.75,-0.321,B4],[7.95,-0.344,B5],[8.10,-0.359,B5],[8.15,-0.387,B5],[8.35,-0.393,B5],[8.38,-0.420,B5],[8.50,-0.443,B5],[8.55,-0.454,B5],[8.88,-0.497,B5],[8.95,-0.520,B5]];
const cir32=[[4.50,0.248,R3],[4.70,0.199,R3],[4.58,0.173,R3],[4.50,0.153,R3],[4.35,0.138,R3],[4.28,0.118,R3],[3.88,0.089,R3],[3.52,0.072,R2],[3.25,0.054,R1],[3.10,0.038,R1],[3.25,0.011,B1],[3.40,-0.008,B2],[3.70,-0.031,B2],[4.15,-0.046,B2],[4.62,-0.064,B3],[5.10,-0.081,B2],[6.18,-0.096,B2],[7.12,-0.110,R1],[8.18,-0.125,R2],[8.65,-0.141,R2],[8.85,-0.156,R2],[9.35,-0.176,R3],[9.75,-0.206,R3],[10.05,-0.252,R3],[10.00,-0.291,R2],[10.05,-0.329,R2],[10.25,-0.359,R2],[10.30,-0.390,R2],[10.40,-0.436,R2],[10.45,-0.451,R2],[10.60,-0.497,B1],[10.65,-0.528,B1],[10.88,-0.550,B1],[10.85,-0.581,B1],[10.50,-0.601,B3],[10.60,-0.635,B1],[10.75,-0.657,R1],[11.10,-0.688,R3],[11.62,-0.703,R5],[11.48,-0.749,R3],[11.90,-0.726,R5],[11.90,-0.772,R5],[12.05,-0.803,R5]];
const line32=[[4.45,0.222],[4.42,0.176],[4.25,0.130],[4.00,0.099],[3.80,0.076],[3.60,0.038],[3.75,0.000],[4.20,-0.031],[4.80,-0.054],[5.80,-0.081],[6.80,-0.107],[7.80,-0.130],[8.60,-0.161],[9.30,-0.191],[9.70,-0.237],[10.00,-0.291],[10.25,-0.375],[10.50,-0.451],[10.70,-0.528],[10.80,-0.619],[11.10,-0.673],[11.50,-0.711],[11.80,-0.757],[11.95,-0.803]];

const tri33=[[7.22,0.214,R5],[7.48,0.191,R5],[7.75,0.171,R5],[8.05,0.150,R5],[8.37,0.130,R5],[8.68,0.110,R5],[8.90,0.089,R5],[9.08,0.066,R5],[9.22,0.041,R5],[9.35,0.011,R5],[9.48,-0.020,R5],[9.62,-0.049,R5],[9.75,-0.076,R5],[9.88,-0.107,R5],[10.00,-0.138,R5],[10.10,-0.168,R5],[10.20,-0.199,R5],[10.30,-0.222,R5],[10.42,-0.245,R5],[10.30,-0.283,R4],[10.28,-0.321,R4],[10.35,-0.359,R3],[10.50,-0.382,R4],[10.60,-0.405,R3],[10.70,-0.443,R4],[10.90,-0.469,R3],[10.95,-0.520,R3],[11.15,-0.558,R3],[11.40,-0.581,R5],[11.52,-0.619,R5],[11.85,-0.642,R5],[12.05,-0.665,R5],[12.25,-0.703,R5],[12.10,-0.726,R5],[12.20,-0.852,R5]];
const sq33=[[4.30,0.260,R5],[4.42,0.245,R5],[4.58,0.229,R5],[4.75,0.214,R5],[4.90,0.199,R5],[4.50,0.176,R5],[4.22,0.168,R5],[4.12,0.157,R5],[3.75,0.145,R5],[3.55,0.138,R5],[3.30,0.099,R4],[3.15,0.089,R4],[2.68,0.084,R4],[2.42,0.069,R3],[2.08,0.061,R2],[1.80,0.054,R2],[1.60,0.038,R2],[1.60,0.023,R1],[1.75,0.008,R1],[1.95,-0.008,R1],[2.05,-0.026,B1],[2.20,-0.046,B1],[2.30,-0.061,B2],[2.45,-0.076,B2],[2.58,-0.084,B2],[2.80,-0.095,B2],[3.02,-0.102,B2],[3.28,-0.112,B2],[3.50,-0.122,B2],[4.02,-0.138,B2],[4.25,-0.145,B2],[5.00,-0.157,B2],[5.35,-0.165,B2],[5.48,-0.173,B2],[5.98,-0.191,B2],[6.13,-0.199,B2],[6.75,-0.211,B2],[7.25,-0.252,B2],[7.42,-0.222,B2],[7.45,-0.275,B3],[7.58,-0.298,B3],[7.70,-0.321,B3],[7.85,-0.344,B3],[8.00,-0.364,B3],[8.15,-0.382,B3],[8.40,-0.393,B2],[8.30,-0.420,B3],[8.45,-0.443,B3],[8.70,-0.489,B4]];
const cir33=[[3.92,0.280,R5],[5.28,0.209,R5],[5.60,0.191,R5],[5.58,0.164,R5],[5.32,0.145,R5],[5.05,0.102,R5],[4.55,0.089,R4],[3.75,0.072,R4],[2.95,0.058,R3],[2.35,0.038,R1],[2.50,0.003,R1],[2.78,-0.031,B1],[2.95,-0.046,B1],[3.18,-0.061,B2],[3.55,-0.073,B2],[4.12,-0.087,B2],[4.85,-0.102,B2],[5.75,-0.115,B1],[6.72,-0.130,R1],[7.45,-0.145,R2],[8.25,-0.161,R3],[8.53,-0.173,R3],[8.83,-0.191,R4],[9.37,-0.206,R4],[9.65,-0.219,R4],[9.80,-0.245,R5],[9.65,-0.283,R3],[9.70,-0.321,R3],[9.70,-0.344,R2],[9.95,-0.375,R3],[9.90,-0.420,R2],[10.10,-0.443,R1],[10.30,-0.459,R3],[10.35,-0.497,R3],[10.25,-0.535,B1],[10.55,-0.550,R2],[10.40,-0.566,B1],[10.05,-0.601,B3],[10.55,-0.619,B1],[10.85,-0.642,R3],[10.70,-0.688,B2],[10.95,-0.719,B1],[11.10,-0.665,R5],[11.75,-0.734,R5],[12.10,-0.711,R5]];
const line33=[[4.60,0.260],[4.95,0.222],[5.22,0.183],[5.00,0.133],[4.50,0.099],[3.80,0.069],[3.20,0.038],[2.78,0.011],[3.00,-0.031],[3.80,-0.066],[4.80,-0.087],[5.80,-0.112],[6.80,-0.138],[7.80,-0.161],[8.60,-0.188],[9.30,-0.214],[9.65,-0.252],[9.80,-0.313],[10.00,-0.390],[10.25,-0.451],[10.40,-0.512],[10.50,-0.573],[10.80,-0.635],[11.10,-0.680],[11.35,-0.726]];

const tri34=[[7.20,0.214,R5],[7.47,0.194,R5],[7.74,0.173,R5],[8.04,0.153,R5],[8.32,0.133,R5],[8.64,0.110,R5],[8.90,0.092,R5],[9.07,0.069,R5],[9.22,0.038,R5],[9.37,0.011,R5],[9.50,-0.020,R5],[9.62,-0.046,R5],[9.75,-0.076,R5],[9.87,-0.107,R5],[10.00,-0.133,R5],[10.12,-0.164,R5],[10.24,-0.194,R5],[10.32,-0.229,R5],[10.34,-0.260,R5],[10.22,-0.298,R5],[10.22,-0.329,R5],[10.32,-0.359,R5],[10.27,-0.398,R5],[10.50,-0.405,R5],[10.30,-0.443,R5],[10.52,-0.466,R5],[10.54,-0.497,R4],[10.70,-0.489,R5],[10.77,-0.543,R3],[11.17,-0.566,R5],[11.12,-0.589,R5],[11.70,-0.607,R5],[12.20,-0.852,R5]];
const sq34=[[4.25,0.260,R5],[4.42,0.242,R5],[4.60,0.225,R5],[4.77,0.209,R5],[4.97,0.196,R5],[5.12,0.187,R5],[4.67,0.168,R5],[4.32,0.153,R5],[4.02,0.142,R5],[4.00,0.118,R5],[3.92,0.099,R5],[3.67,0.092,R5],[3.37,0.084,R5],[2.92,0.069,R5],[2.52,0.061,R5],[2.27,0.049,R4],[1.82,0.041,R3],[1.67,0.031,R3],[1.44,0.015,R2],[1.42,0.000,R2],[1.57,-0.015,R2],[1.70,-0.031,R1],[1.90,-0.046,R1],[2.07,-0.061,B1],[2.22,-0.069,B1],[2.44,-0.081,B1],[2.72,-0.096,B1],[2.92,-0.115,B2],[3.27,-0.125,B2],[3.72,-0.138,B2],[4.12,-0.145,B1],[4.37,-0.156,B1],[5.02,-0.168,B1],[5.60,-0.179,B1],[6.07,-0.194,B1],[6.62,-0.209,B1],[7.07,-0.226,B1],[7.37,-0.240,B1],[7.32,-0.265,B2],[7.52,-0.283,B2],[7.67,-0.306,B2],[7.82,-0.332,B2],[8.02,-0.352,B2],[8.20,-0.375,B2],[8.37,-0.398,B2],[8.44,-0.420,B2],[8.52,-0.451,B2],[8.52,-0.482,B2]];
const cir34=[[5.35,0.206,R5],[5.80,0.191,R5],[5.97,0.176,R5],[5.70,0.153,R5],[5.72,0.130,R5],[5.62,0.099,R5],[4.94,0.084,R5],[4.32,0.069,R5],[3.57,0.057,R5],[2.67,0.054,R4],[2.17,0.023,R3],[2.02,0.011,R2],[2.17,-0.015,R2],[2.50,-0.038,R1],[2.84,-0.066,R1],[3.17,-0.076,B1],[3.75,-0.089,B1],[4.02,-0.107,B1],[4.99,-0.118,B1],[5.84,-0.130,R1],[6.87,-0.145,R3],[7.44,-0.161,R4],[8.25,-0.173,R5],[8.57,-0.187,R5],[8.79,-0.203,R5],[9.40,-0.214,R5],[9.47,-0.252,R5],[9.60,-0.287,R5],[9.42,-0.313,R4],[9.50,-0.344,R3],[9.77,-0.390,R3],[10.04,-0.405,R4],[9.82,-0.420,R3],[9.62,-0.443,R1],[9.87,-0.474,R2],[10.17,-0.497,R3],[10.32,-0.520,R2],[10.12,-0.555,R1],[10.52,-0.566,R2],[10.42,-0.596,B1],[10.22,-0.612,B1],[9.94,-0.635,B1],[10.57,-0.657,R3],[10.42,-0.673,R1],[11.32,-0.688,R5]];
const line34=[[4.82,0.237],[5.22,0.203],[5.47,0.176],[5.42,0.138],[4.92,0.102],[4.02,0.072],[3.22,0.046],[2.52,0.015],[2.62,-0.023],[3.22,-0.061],[4.02,-0.092],[5.02,-0.115],[6.02,-0.138],[7.02,-0.156],[8.02,-0.173],[8.72,-0.203],[9.22,-0.229],[9.42,-0.268],[9.62,-0.329],[9.82,-0.375],[9.97,-0.443],[10.22,-0.512],[10.42,-0.589],[10.54,-0.665]];

// ---------- grid of panels ----------
const TRI=[[tri11,tri12,tri13,tri14],[tri21,tri22,tri23,tri24],[tri31,tri32,tri33,tri34]];
const SQ =[[sq11,sq12,sq13,sq14],[sq21,sq22,sq23,sq24],[sq31,sq32,sq33,sq34]];
const CIR=[[cir11,cir12,cir13,cir14],[cir21,cir22,cir23,cir24],[cir31,cir32,cir33,cir34]];
const LIN=[[line11,line12,line13,line14],[line21,line22,line23,line24],[line31,line32,line33,line34]];
const rBins=['5<R<7','7<R<9','9<R<11','11<R<13'];
const zBins=['1.00<|z|<2.00','0.50<|z|<1.00','0.00<|z|<0.50'];

// axes ticks
const xRange=[0,15], xMajor=5;
const yRange=[-1.5,0.6];
const yMajorTicks=[-1,0];
const yMinorTicks=[-1.4,-1.2,-0.8,-0.6,-0.4,-0.2,0.2,0.4];

// colour bar
const cbEdges=[-5,-4,-3,-2,-1,0,1,2,3,4,5];
const cbColors=['#3b4cc0','#5b7be5','#80a3fa','#aac7fd','#cdd9ec','#ead5c9','#f6b89c','#ef8d6f','#da5c49','#b40426'];
const cbTicks=[-4,-2,0,2,4];

// ---------- layout ----------
const GL=[288,877.33,1466.67,2056], GT=[216,735.75,1255.5], GW=536, GH=472.5;
const FONT='DejaVu Serif';
const AX='#333';
const minus=v=>(v<0?'\u2212'+Math.abs(v):String(v));
const triPath='path://M0,0L10,0L5,9Z';
const sqPath='path://M0,0L10,0L10,10L0,10Z';

const grids=[],xAxes=[],yAxes=[],series=[],graphics=[],scatterIdx=[];
for(let r=0;r<3;r++){for(let c=0;c<4;c++){
  const gi=grids.length;
  grids.push({left:GL[c],top:GT[r],width:GW,height:GH});
  const lineSt={show:true,onZero:false,lineStyle:{color:AX,width:2}};
  const tickSt=(len,vals)=>{const o={show:true,inside:true,length:len,lineStyle:{color:AX,width:1.5}};if(vals)o.customValues=vals;return o;};
  const xb=xAxes.length;
  ['bottom','top'].forEach(pos=>{
    xAxes.push({type:'value',gridIndex:gi,position:pos,min:xRange[0],max:xRange[1],interval:xMajor,
      axisLine:lineSt,axisTick:tickSt(20),
      minorTick:{show:true,splitNumber:5,length:10,lineStyle:{color:AX,width:1.5}},
      splitLine:{show:false},minorSplitLine:{show:false},
      axisLabel:{show:(pos==='bottom'&&r===2),margin:12,fontFamily:FONT,fontSize:46,color:'#000'}});
  });
  const yl=yAxes.length;
  ['left','right'].forEach(pos=>{
    yAxes.push({type:'value',gridIndex:gi,position:pos,min:yRange[0],max:yRange[1],
      axisLine:lineSt,axisTick:tickSt(20,yMajorTicks),splitLine:{show:false},
      axisLabel:{show:(pos==='left'&&c===0),customValues:yMajorTicks,formatter:minus,margin:12,fontFamily:FONT,fontSize:46,color:'#000'}});
    yAxes.push({type:'value',gridIndex:gi,position:pos,min:yRange[0],max:yRange[1],
      axisLine:{show:false,onZero:false},axisTick:tickSt(10,yMinorTicks),splitLine:{show:false},
      axisLabel:{show:false}});
  });
  scatterIdx.push(series.length);
  series.push({type:'scatter',name:'high-\u03b1 disk',xAxisIndex:xb,yAxisIndex:yl,data:TRI[r][c],
    symbol:triPath,symbolSize:[11,10],itemStyle:{borderColor:'rgba(70,70,70,0.55)',borderWidth:0.8},z:2});
  scatterIdx.push(series.length);
  series.push({type:'scatter',name:'low-\u03b1 disk',xAxisIndex:xb,yAxisIndex:yl,data:SQ[r][c],
    symbol:'rect',symbolSize:11,itemStyle:{borderColor:'#000',borderWidth:1},z:3});
  scatterIdx.push(series.length);
  series.push({type:'scatter',name:'all',xAxisIndex:xb,yAxisIndex:yl,data:CIR[r][c],
    symbol:'circle',symbolSize:12,itemStyle:{borderColor:'#000',borderWidth:0.9},z:4});
  series.push({type:'line',name:'mean',xAxisIndex:xb,yAxisIndex:yl,data:LIN[r][c],
    showSymbol:false,symbol:'none',silent:true,lineStyle:{color:'#000',width:4.5,type:[14,7],cap:'butt'},z:5});
  graphics.push({type:'text',x:GL[c]+GW/2,y:GT[r]-19,style:{text:rBins[c]+','+zBins[r],
    fontFamily:FONT,fontSize:40,fill:'#000',textAlign:'center',textVerticalAlign:'middle',verticalAlign:'middle'}});
}}

// colour bar grid
const cbG=grids.length;
grids.push({left:314,top:1901,width:2303,height:40,show:true,borderColor:'#000',borderWidth:1.5,backgroundColor:'transparent',z:10});
const cbX=xAxes.length;
xAxes.push({type:'value',gridIndex:cbG,position:'bottom',min:-5,max:5,
  axisLine:{show:false,onZero:false},splitLine:{show:false},
  axisTick:{show:true,inside:false,length:7,customValues:cbTicks,lineStyle:{color:'#000',width:1.2}},
  axisLabel:{customValues:cbTicks,formatter:minus,fontFamily:FONT,fontSize:21,color:'#000',margin:8}});
const cbY=yAxes.length;
yAxes.push({type:'value',gridIndex:cbG,min:0,max:1,show:false});
series.push({type:'custom',xAxisIndex:cbX,yAxisIndex:cbY,silent:true,
  data:cbColors.map((col,i)=>[cbEdges[i],cbEdges[i+1],i]),
  encode:{x:[0,1]},
  renderItem:(p,api)=>{const a=api.coord([api.value(0),0]),b=api.coord([api.value(1),1]);
    const col=cbColors[api.value(2)];
    return {type:'rect',shape:{x:a[0],y:b[1],width:b[0]-a[0],height:a[1]-b[1]},style:{fill:col,stroke:col,lineWidth:1}};}});

// texts
graphics.push({type:'text',x:1465,y:112,style:{text:'z=0',fontFamily:FONT,fontSize:72,fill:'#000',textAlign:'center',textVerticalAlign:'middle',verticalAlign:'middle'}});
graphics.push({type:'text',x:1438,y:1838,style:{text:'Age [Gyr]',fontFamily:FONT,fontSize:68,fill:'#000',textAlign:'center',textVerticalAlign:'middle',verticalAlign:'middle'}});
graphics.push({type:'text',x:141,y:1086,rotation:Math.PI/2,style:{text:'[Fe/H]',fontFamily:FONT,fontSize:68,fill:'#000',textAlign:'center',textVerticalAlign:'middle',verticalAlign:'middle'}});
graphics.push({type:'text',x:1464,y:2008,style:{
  text:'{i|R}{s|now}{n| \u2212 }{i|R}{s|bir}{n| [kpc]}',textAlign:'center',textVerticalAlign:'middle',verticalAlign:'middle',fill:'#000',
  rich:{i:{fontFamily:'DejaVu Sans',fontStyle:'italic',fontSize:47,lineHeight:58,verticalAlign:'middle'},
        s:{fontFamily:'DejaVu Sans',fontStyle:'italic',fontSize:33,lineHeight:28,verticalAlign:'bottom'},
        n:{fontFamily:FONT,fontSize:47,lineHeight:58,verticalAlign:'middle'}}}});

const legendBase={orient:'vertical',padding:0,itemWidth:71,itemHeight:10,selectedMode:false,symbolKeepAspect:true,
  textStyle:{fontFamily:FONT,fontSize:26,color:'#000'}};
const legends=[
  Object.assign({},legendBase,{left:612,top:606,data:[{name:'high-\u03b1 disk',icon:triPath,itemStyle:{color:'#dc5d4a',borderColor:'rgba(70,70,70,0.55)',borderWidth:0.8}}]}),
  Object.assign({},legendBase,{left:612,top:643,data:[{name:'low-\u03b1 disk',icon:sqPath,itemStyle:{color:'#3b4cc0',borderColor:'#000',borderWidth:1}}]})
];

const chart=echarts.init(document.getElementById('c'),null,{renderer:'canvas',width:2880,height:2160});
chart.setOption({
  animation:false,backgroundColor:'#fff',
  grid:grids,xAxis:xAxes,yAxis:yAxes,series:series,graphic:graphics,legend:legends,
  visualMap:{type:'piecewise',show:false,dimension:2,seriesIndex:scatterIdx,
    pieces:cbColors.map((col,i)=>({gte:cbEdges[i],lt:cbEdges[i+1],color:col}))}
});
</script></body></html>
